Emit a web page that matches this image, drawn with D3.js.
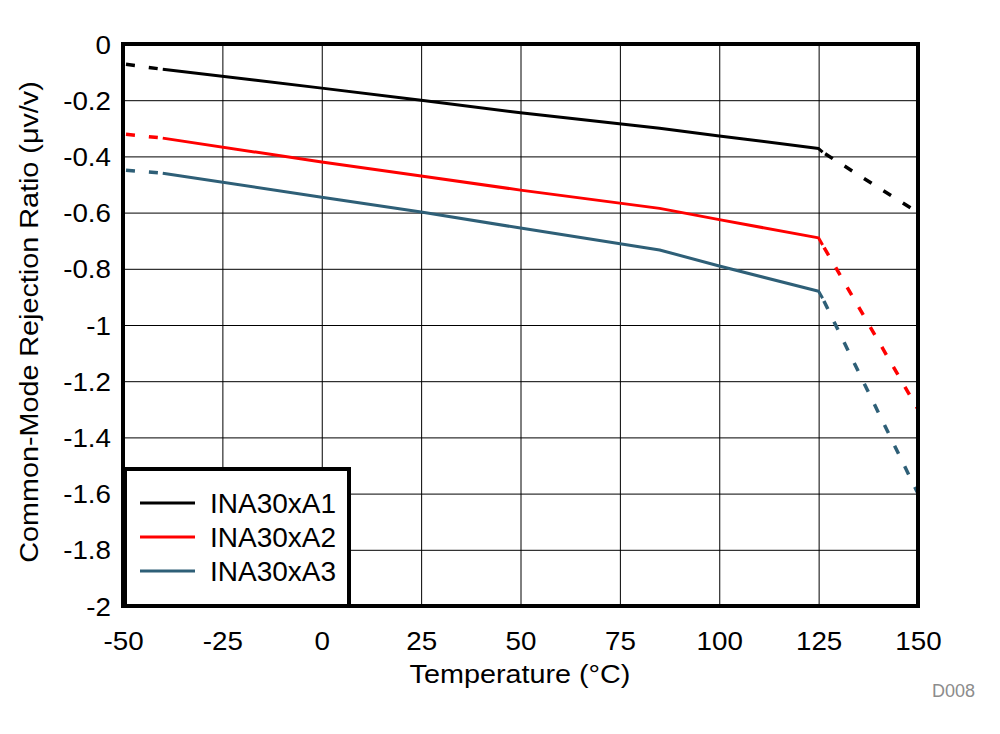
<!DOCTYPE html>
<html><head><meta charset="utf-8">
<script src="https://cdn.jsdelivr.net/npm/d3@7"></script>
<style>body{margin:0;background:#fff}svg{display:block}text{font-family:"Liberation Sans",Arial,sans-serif}</style>
</head><body>
<svg id="c" width="1000" height="734"></svg>
<script>
const temps = [-50, -40, 0, 25, 50, 85, 100, 125, 126, 150];
const seriesNames = ["INA30xA1", "INA30xA2", "INA30xA3"];
const seriesColors = ["#000000", "#ff0000", "#2e5f77"];
const a1 = [-0.071, -0.09, -0.157, -0.2, -0.245, -0.30, -0.327, -0.372, -0.385, -0.60];
const a2 = [-0.32, -0.335, -0.42, -0.47, -0.52, -0.585, -0.625, -0.69, -0.715, -1.30];
const a3 = [-0.448, -0.46, -0.545, -0.598, -0.655, -0.733, -0.79, -0.88, -0.905, -1.60];
const xTicks = [-50, -25, 0, 25, 50, 75, 100, 125, 150];
const yTicks = [0, -0.2, -0.4, -0.6, -0.8, -1, -1.2, -1.4, -1.6, -1.8, -2];
const solidRange = [-40, 126];

const svg = d3.select("#c");
const L = 123, R = 918, T = 44, B = 606;
const x = d3.scaleLinear().domain([-50, 150]).range([L, R]);
const y = d3.scaleLinear().domain([-2, 0]).range([B, T]);

function stretch(sel, k) {
  sel.each(function () {
    const w = this.getComputedTextLength();
    d3.select(this).attr("textLength", w * k).attr("lengthAdjust", "spacingAndGlyphs");
  });
}

svg.append("defs").append("clipPath").attr("id", "clip")
  .append("rect").attr("x", L).attr("y", T).attr("width", R - L).attr("height", B - T);

// grid
const gx = svg.append("g").attr("transform", `translate(0,${B})`)
  .call(d3.axisBottom(x).tickValues(xTicks).tickSize(-(B - T)).tickFormat(d => d));
const gy = svg.append("g").attr("transform", `translate(${L},0)`)
  .call(d3.axisLeft(y).tickValues(yTicks).tickSize(-(R - L)).tickFormat(d => d));
[gx, gy].forEach(g => {
  g.select(".domain").remove();
  g.selectAll(".tick line").attr("stroke", "#000").attr("stroke-width", 1);
  g.selectAll(".tick text").attr("fill", "#000").style("font-size", "25px");
});
gx.selectAll(".tick text").attr("dy", "0").attr("y", 44);
gy.selectAll(".tick text").attr("x", -12).attr("dy", "0.36em");
stretch(gx.selectAll(".tick text"), 1.11);
stretch(gy.selectAll(".tick text"), 1.11);

const data = [a1, a2, a3];
const line = d3.line().x(d => x(d[0])).y(d => y(d[1]));
const plot = svg.append("g").attr("clip-path", "url(#clip)");
data.forEach((vals, i) => {
  const pts = temps.map((t, j) => [t, vals[j]]);
  const solid = pts.filter(p => p[0] >= solidRange[0] && p[0] <= solidRange[1]);
  const left = pts.filter(p => p[0] <= solidRange[0]);
  const right = pts.filter(p => p[0] >= solidRange[1]);
  plot.append("path").attr("d", line(solid)).attr("fill", "none")
    .attr("stroke", seriesColors[i]).attr("stroke-width", 3).attr("stroke-linejoin", "round");
  [left, right].forEach(seg => {
    plot.append("path").attr("d", line(seg)).attr("fill", "none")
      .attr("stroke", seriesColors[i]).attr("stroke-width", 3.5)
      .attr("stroke-dasharray", "9,14").attr("stroke-dashoffset", -3);
  });
});

// border
svg.append("rect").attr("x", L).attr("y", T).attr("width", R - L).attr("height", B - T)
  .attr("fill", "none").attr("stroke", "#000").attr("stroke-width", 4);

// legend
const lg = svg.append("g");
lg.append("rect").attr("x", 125).attr("y", 469).attr("width", 224).attr("height", 137)
  .attr("fill", "#fff").attr("stroke", "#000").attr("stroke-width", 4);
seriesNames.forEach((n, i) => {
  const yy = 503 + i * 34;
  lg.append("line").attr("x1", 140).attr("x2", 195).attr("y1", yy).attr("y2", yy)
    .attr("stroke", seriesColors[i]).attr("stroke-width", 3);
  lg.append("text").attr("x", 210).attr("y", yy + 10).text(n).style("font-size", "28px").attr("fill", "#000");
});

// axis titles
const xt = svg.append("text").attr("x", 520).attr("y", 683).attr("text-anchor", "middle")
  .style("font-size", "25px").text("Temperature (°C)");
stretch(xt, 1.15);
const yt = svg.append("text").attr("transform", "translate(38,322) rotate(-90)").attr("text-anchor", "middle")
  .style("font-size", "25px").text("Common-Mode Rejection Ratio (μv/v)");
stretch(yt, 1.15);
svg.append("text").attr("x", 975).attr("y", 697).attr("text-anchor", "end")
  .style("font-size", "18px").attr("fill", "#8c8c8c").text("D008");
</script>
</body></html>
